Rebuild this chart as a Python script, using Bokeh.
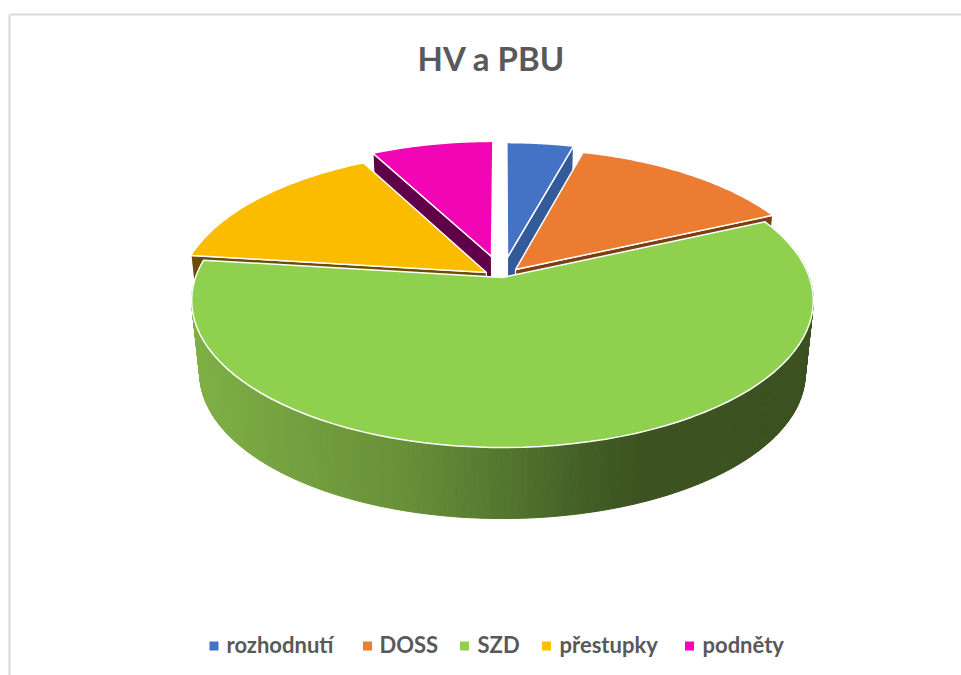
import math
from bokeh.plotting import figure
from bokeh.embed import file_html
from bokeh.resources import INLINE
from bokeh.core.properties import value

title = "HV a PBU"
categories = ["rozhodnutí", "DOSS", "SZD", "přestupky", "podněty"]
shares = [4.25, 13.97, 58.75, 15.28, 7.75]

top_colors = ["#4472C4", "#EB7C31", "#8FD04F", "#FBBC00", "#F205B4"]
wall_colors = ["#335A99", "#7A3F12", "#3D5520", "#6B4E00", "#5F0048"]
legend_colors = ["#4472C4", "#ED7D31", "#92D050", "#FFC000", "#FF00BB"]

# layout of the exploded pie (in disc units, y towards the viewer)
explode_u = [0.0166, 0.0428, 0.0, -0.0527, -0.0367]
explode_v = [-0.143, -0.056, 0.0, -0.0351, -0.150]
radius = [0.96, 0.99, 1.0, 0.995, 0.965]
legend_marker_x = [213.5, 367, 464, 546, 689]
legend_text_x = [226, 379, 477, 559, 702]

CX, K = 502.0, 0.1565
TOP = dict(R=307.0, S=143.4, cy=277.0)
FLOOR = dict(R=299.0, S=141.5, cy=350.3)
GRADIENT = [(191, (127, 176, 69)), (404, (104, 144, 56)), (498, (85, 120, 48)),
            (588, (66, 94, 37)), (641, (60, 82, 32)), (815, (59, 81, 32))]


def project(u, v, m):
    w = 1 - K * v
    return CX + m["R"] * u / w, m["cy"] + m["S"] * v / w


def disc(theta, i, r=None):
    r = radius[i] if r is None else r
    a = math.radians(theta)
    return explode_u[i] + r * math.sin(a), explode_v[i] - r * math.cos(a)


def sweep(a, b, n=80):
    return [a + (b - a) * j / n for j in range(n + 1)]


def shade(x):
    for (x0, c0), (x1, c1) in zip(GRADIENT, GRADIENT[1:]):
        if x <= x1:
            t = max(0.0, (x - x0) / (x1 - x0))
            return "#%02x%02x%02x" % tuple(round(p + (q - p) * t) for p, q in zip(c0, c1))
    return "#%02x%02x%02x" % GRADIENT[-1][1]


total = sum(shares)
spans, acc = [], 0.0
for s in shares:
    spans.append((acc, acc + 360.0 * s / total))
    acc += 360.0 * s / total

p = figure(width=961, height=675, x_range=(0, 961), y_range=(675, 0),
           output_backend="svg", toolbar_location=None, min_border=0,
           outline_line_color=None, background_fill_color="white")
p.axis.visible = False
p.grid.visible = False

# chart frame
p.line([9, 9], [675, 14], line_color="#D9D9D9", line_width=2)
p.line([9, 961], [14, 14], line_color="#D9D9D9", line_width=2)

# rim of the big slice, shaded left to right
g = categories.index("SZD")
thetas = sweep(spans[g][0], spans[g][1], 300)
qx, qy, qc = [], [], []
for a, b in zip(thetas, thetas[1:]):
    ua, va = disc(a, g)
    ub, vb = disc(b, g)
    t0, t1 = project(ua, va, TOP), project(ub, vb, TOP)
    f0, f1 = project(ua, va, FLOOR), project(ub, vb, FLOOR)
    qx.append([t0[0], t1[0], f1[0], f0[0]])
    qy.append([t0[1], t1[1], f1[1], f0[1]])
    qc.append(shade((t0[0] + t1[0] + f0[0] + f1[0]) / 4))
p.patches(qx, qy, fill_color=qc, line_color=qc, line_width=1)

# radial walls: which edge of each slice shows, drawn back to front
wall_edge = {4: 0, 0: 1, 3: 0, 1: 1}
for i in [4, 0, 3, 1]:
    th = spans[i][wall_edge[i]]
    ou, ov = disc(th, i)
    au, av = explode_u[i], explode_v[i]
    pts = [project(au, av, TOP), project(ou, ov, TOP), project(ou, ov, FLOOR), project(au, av, FLOOR)]
    p.patch([q[0] for q in pts], [q[1] for q in pts], fill_color=wall_colors[i],
            line_color="white", line_width=1.2)

# top faces
for i in [4, 0, 3, 1, 2]:
    pts = [project(explode_u[i], explode_v[i], TOP)]
    pts += [project(*disc(th, i), TOP) for th in sweep(*spans[i])]
    p.patch([q[0] for q in pts], [q[1] for q in pts], fill_color=top_colors[i],
            line_color="white", line_width=1.5)

p.text([491], [57], text=[title], text_font=value("Lato"), text_font_style="bold",
       text_font_size="33px", text_color="#595959", text_align="center", text_baseline="middle")

p.rect(legend_marker_x, [645.5] * 5, width=9, height=9, fill_color=legend_colors, line_color=None)
p.text(legend_text_x, [644] * 5, text=categories, text_font=value("Lato"), text_font_style="bold",
       text_font_size="22px", text_color="#595959", text_align="left", text_baseline="middle")

open("out.html", "w").write(file_html(p, INLINE))
